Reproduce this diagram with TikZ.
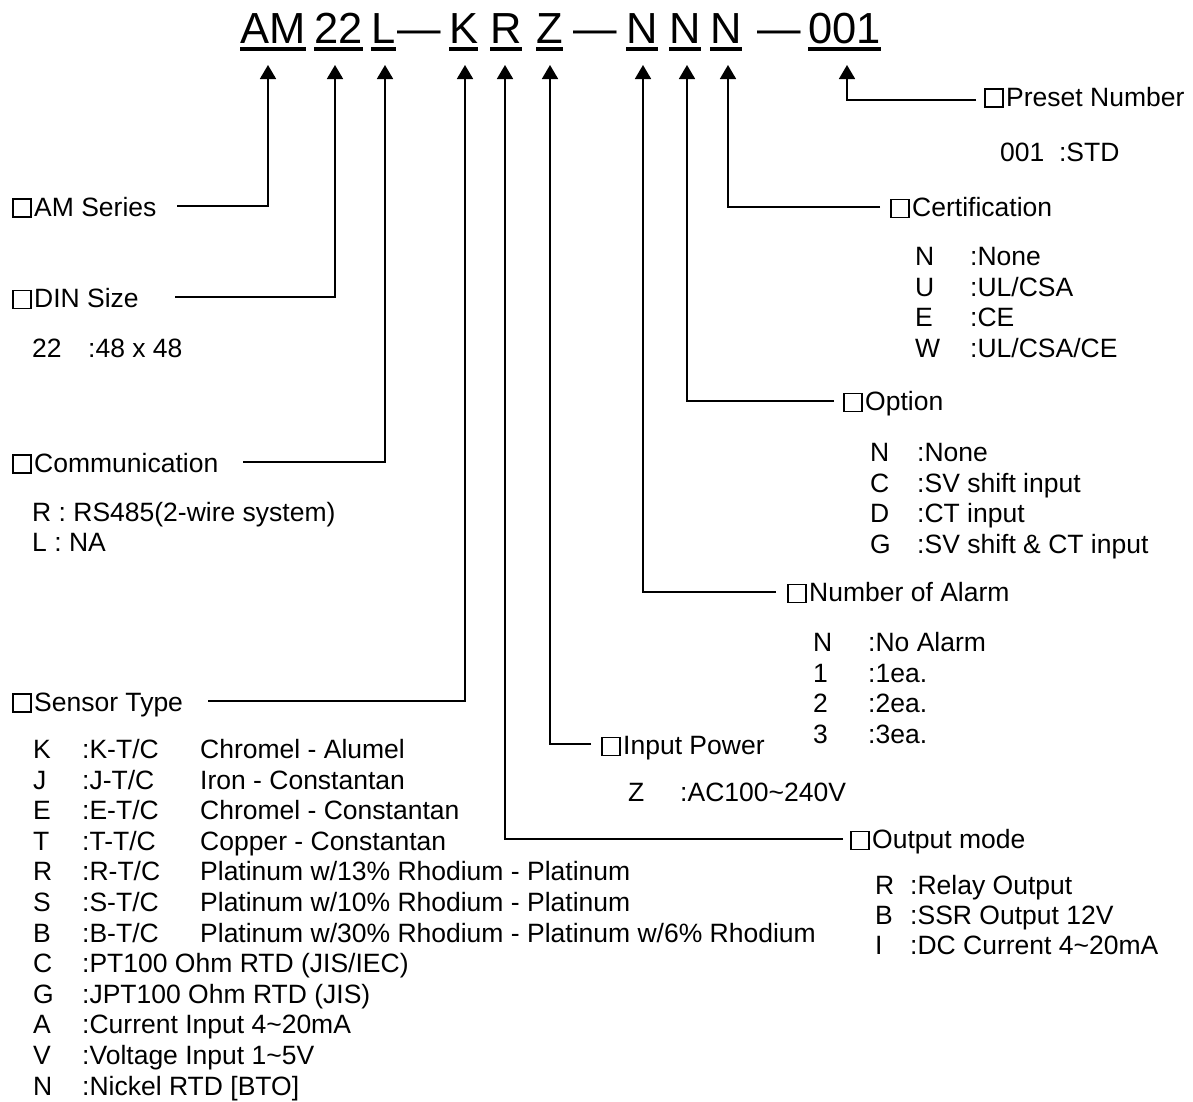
\documentclass[tikz,border=0pt]{standalone}
\usepackage{fontspec}
\setmainfont{Liberation Sans}
\usetikzlibrary{arrows.meta}
\newcommand\listrow[6]{\node[txt] (#1c) at (#2,#4) {#5}; \node[txt] (#1d) at (#3,#4) {#6};}
\newcommand\tld{\textasciitilde}
\newcommand\bx{\begingroup\setlength\fboxsep{0pt}\setlength\fboxrule{1.5pt}\fbox{\rule{0pt}{16.5pt}\rule{16.5pt}{0pt}}\endgroup\kern2.5pt}
\begin{document}
\begin{tikzpicture}[x=1pt,y=-1pt,
  txt/.style={anchor=base west,inner sep=0pt,font=\fontsize{26.5}{30}\selectfont},
  hd/.style={anchor=base west,inner sep=0pt,font=\fontsize{43.5}{46}\selectfont},
  conn/.style={line width=1.8pt,-{Triangle[length=14pt,width=16pt]}},
  uline/.style={line width=4pt}]
\useasboundingbox[fill=white] (0,0) rectangle (1193,1101);

% ---- header code ----
\node[hd] (hAM) at (240,43) {AM};
\node[hd] (h22) at (314,43) {22};
\node[hd] (hL) at (371,43) {L};
\node[hd] (d1) at (397,43) {—};
\node[hd] (hK) at (449,43) {K};
\node[hd] (hR) at (490,43) {R};
\node[hd] (hZ) at (536,43) {Z};
\node[hd] (d2) at (573,43) {—};
\node[hd] (hNa) at (626,43) {N};
\node[hd] (hNb) at (669,43) {N};
\node[hd] (hNc) at (710,43) {N};
\node[hd] (d3) at (757,43) {—};
\node[hd] (h001) at (808,43) {001};
\foreach \n in {hAM,h22,hL,hK,hR,hZ,hNa,hNb,hNc,h001}
  \draw[uline] ([yshift=-6pt]\n.base west) -- ([yshift=-6pt]\n.base east);

% ---- arrow tips ----
\coordinate (tAM) at (268,65);
\coordinate (t22) at (335,65);
\coordinate (tL) at (385,65);
\coordinate (tK) at (465,65);
\coordinate (tR) at (505,65);
\coordinate (tZ) at (550,65);
\coordinate (tNa) at (643,65);
\coordinate (tNb) at (687,65);
\coordinate (tNc) at (728,65);
\coordinate (t001) at (847,65);

% ---- connector ends ----
\coordinate (eAM) at (177,206);
\coordinate (e22) at (175,297);
\coordinate (eL) at (243,462);
\coordinate (eK) at (208,701);
\coordinate (eR) at (843,839);
\coordinate (eZ) at (591,744);
\coordinate (eNa) at (776,592);
\coordinate (eNb) at (834,401);
\coordinate (eNc) at (880,207);
\coordinate (e001) at (976,100);

\foreach \n in {AM,22,L,K,R,Z,Na,Nb,Nc,001}
  \draw[conn] (e\n) -| (t\n);

% ---- left labels ----
\node[txt] (lAM) at (12,216) {\bx AM Series};
\node[txt] (lDIN) at (12,307.5) {\bx DIN Size};
\listrow{din}{32}{88}{357.5}{22}{:48 x 48}
\node[txt] (lCom) at (12,472) {\bx Communication};
\node[txt] (com1) at (32,521) {R : RS485(2-wire system)};
\node[txt] (com2) at (32,551.5) {L : NA};
\node[txt] (lSen) at (12,711) {\bx Sensor Type};

\listrow{sK}{33}{82}{758.5}{K}{:K-T/C}
\listrow{sJ}{33}{82}{789.1}{J}{:J-T/C}
\listrow{sE}{33}{82}{819.7}{E}{:E-T/C}
\listrow{sT}{33}{82}{850.3}{T}{:T-T/C}
\listrow{sR}{33}{82}{880.9}{R}{:R-T/C}
\listrow{sS}{33}{82}{911.5}{S}{:S-T/C}
\listrow{sB}{33}{82}{942.1}{B}{:B-T/C}
\listrow{sC}{33}{82}{972.7}{C}{:PT100 Ohm RTD (JIS/IEC)}
\listrow{sG}{33}{82}{1003.3}{G}{:JPT100 Ohm RTD (JIS)}
\listrow{sA}{33}{82}{1033.9}{A}{:Current Input 4\tld20mA}
\listrow{sV}{33}{82}{1064.5}{V}{:Voltage Input 1\tld5V}
\listrow{sN}{33}{82}{1095.1}{N}{:Nickel RTD [BTO]}
\node[txt] (sKm) at (200,758.5) {Chromel - Alumel};
\node[txt] (sJm) at (200,789.1) {Iron - Constantan};
\node[txt] (sEm) at (200,819.7) {Chromel - Constantan};
\node[txt] (sTm) at (200,850.3) {Copper - Constantan};
\node[txt] (sRm) at (200,880.9) {Platinum w/13\% Rhodium - Platinum};
\node[txt] (sSm) at (200,911.5) {Platinum w/10\% Rhodium - Platinum};
\node[txt] (sBm) at (200,942.1) {Platinum w/30\% Rhodium - Platinum w/6\% Rhodium};

% ---- right labels ----
\node[txt] (lPre) at (984,106) {\bx Preset Number};
\node[txt] (pre1) at (1000,161.5) {001 \ :STD};

\node[txt] (lCer) at (890,216.5) {\bx Certification};
\listrow{cN}{915}{970}{265.5}{N}{:None}
\listrow{cU}{915}{970}{296.1}{U}{:UL/CSA}
\listrow{cE}{915}{970}{326.7}{E}{:CE}
\listrow{cW}{915}{970}{357.3}{W}{:UL/CSA/CE}

\node[txt] (lOpt) at (843,410.5) {\bx Option};
\listrow{oN}{870}{917}{461.5}{N}{:None}
\listrow{oC}{870}{917}{492.1}{C}{:SV shift input}
\listrow{oD}{870}{917}{522.7}{D}{:CT input}
\listrow{oG}{870}{917}{553.3}{G}{:SV shift \& CT input}

\node[txt] (lAl) at (787,601.5) {\bx Number of Alarm};
\listrow{aN}{813}{868}{651.5}{N}{:No Alarm}
\listrow{a1}{813}{868}{682.1}{1}{:1ea.}
\listrow{a2}{813}{868}{712.7}{2}{:2ea.}
\listrow{a3}{813}{868}{743.3}{3}{:3ea.}

\node[txt] (lIn) at (601,754.5) {\bx Input Power};
\listrow{iZ}{628}{680}{801.5}{Z}{:AC100\tld240V}

\node[txt] (lOut) at (850,848.5) {\bx Output mode};
\listrow{uR}{875}{910}{894.5}{R}{:Relay Output}
\listrow{uB}{875}{910}{924.5}{B}{:SSR Output 12V}
\listrow{uI}{875}{910}{954.5}{I}{:DC Current 4\tld20mA}
\end{tikzpicture}
\end{document}
